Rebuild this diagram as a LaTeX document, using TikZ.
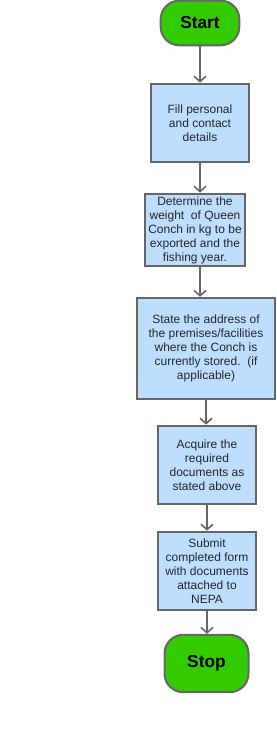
\documentclass[tikz,border=0pt]{standalone}
\usepackage{fontspec}
\setmainfont{Liberation Sans}
\usetikzlibrary{arrows.meta}
\definecolor{boxblue}{RGB}{189,222,255}
\definecolor{termgreen}{RGB}{51,204,0}
\definecolor{edgegray}{RGB}{102,102,102}
\begin{document}
\begin{tikzpicture}[x=0.75pt, y=-0.75pt, font=\fontsize{9}{10.5}\selectfont,
  >={Straight Barb[length=4pt, width=9pt, line width=1.2pt]},
  stepbox/.style={draw=edgegray, fill=boxblue, line width=1.5pt, align=center, inner sep=2pt, text=black!85},
  term/.style={draw=edgegray, fill=termgreen, line width=1.5pt, rounded corners=14pt, font=\fontsize{13}{15}\selectfont\bfseries},
  flow/.style={->, line width=1.5pt, draw=edgegray}]
\useasboundingbox (0,0) rectangle (276,738);
% terminals and steps
\node[term, minimum width=59pt, minimum height=33.5pt] (start) at (200,23) {Start};
\node[stepbox, minimum width=74pt, minimum height=59pt] (fill) at (200,123) {Fill personal\\and contact\\details};
\node[stepbox, minimum width=75.5pt, minimum height=54.5pt] (weight) at (195,230) {Determine the\\weight\ \ of Queen\\Conch in kg to be\\exported and the\\fishing year.};
\node[stepbox, minimum width=104pt, minimum height=76pt] (address) at (206,348.5) {State the address of\\the premises/facilities\\where the Conch is\\currently stored.\ \ (if\\applicable)};
\node[stepbox, minimum width=74pt, minimum height=59pt] (acquire) at (207,465) {Acquire the\\required\\documents as\\stated above};
\node[stepbox, minimum width=74pt, minimum height=59pt] (submit) at (207,571) {Submit\\completed form\\with documents\\attached to\\NEPA};
\node[term, minimum width=63pt, minimum height=43pt] (stop) at (206.5,663.5) {Stop};
% connectors
\draw[flow] (start) -- (fill);
\draw[flow] (fill.south) -- (fill.south |- weight.north);
\draw[flow] (fill.south |- weight.south) -- (fill.south |- address.north);
\draw[flow] (address.south) -- (address.south |- acquire.north);
\draw[flow] (acquire) -- (submit);
\draw[flow] (submit.south) -- (submit.south |- stop.north);
\end{tikzpicture}
\end{document}
